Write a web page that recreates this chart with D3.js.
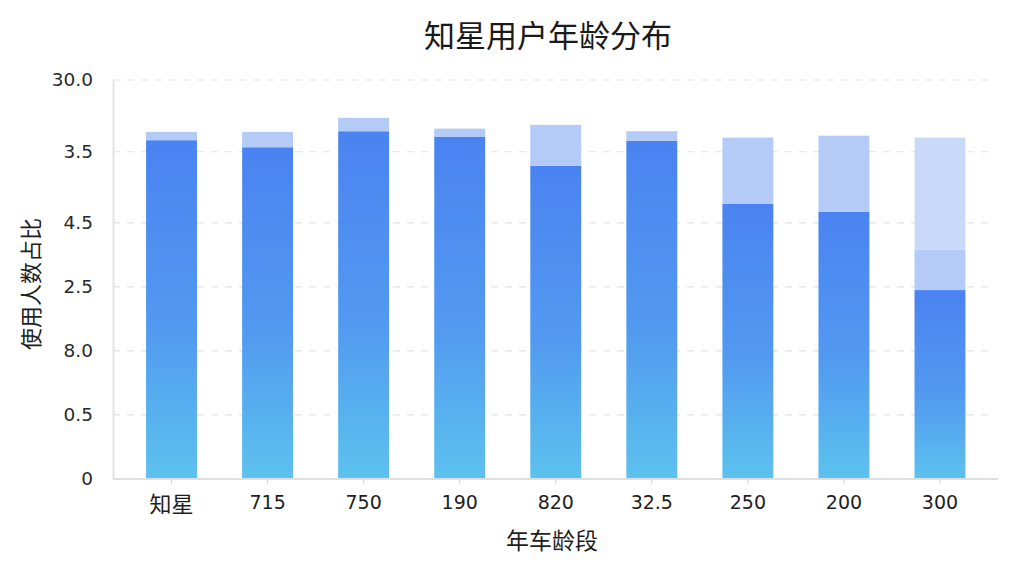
<!DOCTYPE html>
<html>
<head>
<meta charset="utf-8">
<script src="https://cdn.jsdelivr.net/npm/d3@7"></script>
<style>
  html, body { margin: 0; padding: 0; background: #ffffff; }
  svg { display: block; }
</style>
</head>
<body>
<svg id="chart" width="1024" height="576"></svg>
<script>
// ---- data ----
const categories = ["知星", "715", "750", "190", "820", "32.5", "250", "200", "300"];
const mainValues  = [5.29, 5.18, 5.43, 5.34, 4.89, 5.28, 4.30, 4.17, 2.95];
const upperValues = [0.13, 0.24, 0.21, 0.13, 0.64, 0.15, 1.03, 1.19, 0.63];
const extraValues = [0, 0, 0, 0, 0, 0, 0, 0, 1.75];
const yTickValues = [0, 1, 2, 3, 4, 5.11, 6.23];
const yTickLabels = ["0", "0.5", "8.0", "2.5", "4.5", "3.5", "30.0"];
const titleText = "知星用户年龄分布";
const xTitle = "年车龄段";
const yTitle = "使用人数占比";

// ---- layout ----
const svg = d3.select("#chart");
const plot = { left: 113, right: 998, top: 80, bottom: 479 };

const x = d3.scaleBand()
  .domain(categories)
  .range([123.5, 988])
  .paddingInner(0.47)
  .paddingOuter(0.235);

const y = d3.scaleLinear()
  .domain([0, 6.23])
  .range([plot.bottom, plot.top]);

const rows = categories.map((c, i) => ({
  cat: c, main: mainValues[i], upper: upperValues[i], extra: extraValues[i]
}));
const keys = ["main", "upper", "extra"];
const stacked = d3.stack().keys(keys)(rows);

// gradient for the main segment
const defs = svg.append("defs");
const grad = defs.append("linearGradient")
  .attr("id", "mainGrad")
  .attr("x1", 0).attr("y1", 0).attr("x2", 0).attr("y2", 1);
grad.append("stop").attr("offset", "0%").attr("stop-color", "#4a83f1");
grad.append("stop").attr("offset", "55%").attr("stop-color", "#5299f0");
grad.append("stop").attr("offset", "100%").attr("stop-color", "#5cc2ee");

const fills = { main: "url(#mainGrad)", upper: "#b3cbf6", extra: "#c8daf7" };

// grid lines
svg.append("g")
  .selectAll("line")
  .data(yTickValues.slice(1))
  .join("line")
  .attr("x1", plot.left)
  .attr("x2", 992)
  .attr("y1", d => y(d))
  .attr("y2", d => y(d))
  .attr("stroke", "#e4e4e4")
  .attr("stroke-width", 1.2)
  .attr("stroke-dasharray", "7,7");

// bars
svg.append("g")
  .selectAll("g")
  .data(stacked)
  .join("g")
  .attr("fill", d => fills[d.key])
  .selectAll("rect")
  .data(d => d.filter(s => s[1] - s[0] > 0))
  .join("rect")
  .attr("x", d => x(d.data.cat))
  .attr("width", x.bandwidth())
  .attr("y", d => y(d[1]))
  .attr("height", d => y(d[0]) - y(d[1]));

// y axis
const yAxis = d3.axisLeft(y)
  .tickValues(yTickValues)
  .tickFormat((d, i) => yTickLabels[i])
  .tickSize(0)
  .tickPadding(20);
const gy = svg.append("g")
  .attr("transform", `translate(${plot.left},0)`)
  .call(yAxis);
gy.select(".domain").attr("stroke", "#e4e4e4").attr("stroke-width", 2);
gy.selectAll("text")
  .attr("font-family", "'DejaVu Sans', sans-serif")
  .attr("font-size", 18.5)
  .attr("fill", "#2a2a2a");

// x axis
const xAxis = d3.axisBottom(x).tickSize(5).tickPadding(12);
const gx = svg.append("g")
  .attr("transform", `translate(0,${plot.bottom})`)
  .call(xAxis);
gx.select(".domain").remove();
gx.append("line")
  .attr("x1", plot.left).attr("x2", plot.right)
  .attr("y1", 0).attr("y2", 0)
  .attr("stroke", "#dedede").attr("stroke-width", 2);
gx.selectAll(".tick line").attr("stroke", "#d4d4d4");
gx.selectAll("text")
  .attr("font-family", "'DejaVu Sans', 'Noto Sans CJK SC', sans-serif")
  .attr("font-size", d => /[0-9]/.test(d) ? 19 : 22)
  .attr("fill", "#1e1e1e");

// title
svg.append("text")
  .attr("x", 548)
  .attr("y", 47)
  .attr("text-anchor", "middle")
  .attr("font-family", "'Noto Sans CJK SC', sans-serif")
  .attr("font-size", 31)
  .attr("fill", "#1a1a1a")
  .text(titleText);

// x title
svg.append("text")
  .attr("x", 552)
  .attr("y", 549)
  .attr("text-anchor", "middle")
  .attr("font-family", "'Noto Sans CJK SC', sans-serif")
  .attr("font-size", 23)
  .attr("fill", "#1e1e1e")
  .text(xTitle);

// y title
svg.append("text")
  .attr("transform", "translate(39,284) rotate(-90)")
  .attr("text-anchor", "middle")
  .attr("font-family", "'Noto Sans CJK SC', sans-serif")
  .attr("font-size", 22)
  .attr("fill", "#1e1e1e")
  .text(yTitle);
</script>
</body>
</html>
